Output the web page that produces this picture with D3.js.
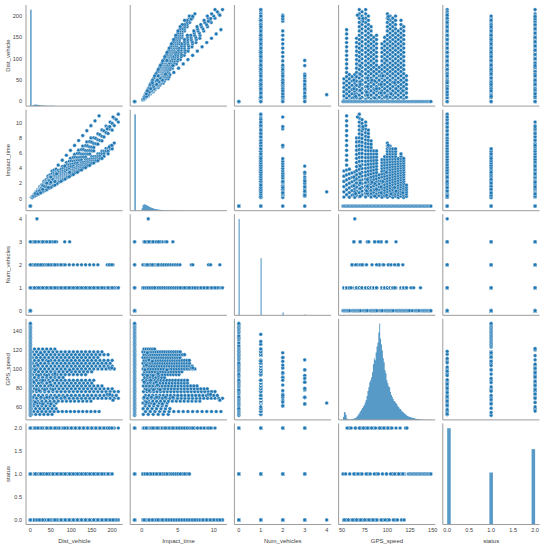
<!DOCTYPE html>
<html><head><meta charset="utf-8">
<script src="https://cdn.jsdelivr.net/npm/d3@7"></script>
<style>body{margin:0;background:#fff}svg{display:block}</style>
</head><body><svg id="c" width="550" height="546"></svg>
<script>
// ---------------- DATA ----------------
const variables = ["Dist_vehicle", "Impact_time", "Num_vehicles", "GPS_speed", "status"];

// tick labels per variable
const yTicks = [[0, 50, 100, 150, 200], [0, 2, 4, 6, 8, 10], [0, 1, 2, 3, 4], [60, 80, 100, 120, 140], [0, 0.5, 1, 1.5, 2]];
const xTicks = [[0, 50, 100, 150, 200], [0, 5, 10], [0, 1, 2, 3, 4], [50, 75, 100, 125, 150], [0, 0.5, 1, 1.5, 2]];

// approach tracks (constant GPS speed)
const trackGps    = [52, 55, 58, 61, 64, 66, 69, 72, 76, 79, 82, 85, 88, 91, 94, 97, 100, 103, 106, 109, 112, 115, 118, 121];
const trackNum    = [1, 1, 1, 2, 1, 1, 1, 1, 1, 1, 1, 1, 1, 2, 1, 1, 1, 1, 1, 1, 2, 1, 1, 1];
const trackStatus = [0, 0, 2, 0, 1, 0, 0, 0, 2, 2, 0, 2, 0, 2, 0, 2, 0, 2, 1, 1, 1, 1, 1, 2];
const trackDist = [
  [3, 13, 23, 33, 43, 53],
  [8, 18, 28, 38, 48, 58, 68, 78, 88, 98, 108, 118, 128, 138, 148, 158, 168],
  [3, 13, 23, 33, 43, 53, 63],
  [8, 18, 28, 38, 48, 58],
  [3, 13, 23, 33, 43, 53, 63],
  [8, 18, 28, 38, 48, 58, 68, 78, 88, 98, 108, 118, 128, 138, 148],
  [5, 15, 25, 35, 45, 55, 65, 75, 85, 95, 105, 115, 125, 135, 145, 155, 165, 175, 185, 195, 205, 215],
  [10, 20, 30, 40, 50, 60, 70, 80, 90, 100, 110, 120, 130, 140, 150, 160, 170, 180, 190, 200, 210],
  [5, 15, 25, 35, 45, 55, 65, 75, 85, 95, 105, 115, 125, 135, 145, 155, 165, 175, 185, 195, 205, 215],
  [10, 20, 30, 40, 50, 60, 70, 80, 90, 100, 110, 120, 130, 140, 150, 160, 170, 180, 190, 200],
  [5, 15, 25, 35, 45, 55, 65, 75, 85, 95, 105, 115, 125, 135, 145, 155, 165, 175],
  [10, 20, 30, 40, 50, 60, 70, 80, 90, 100, 110, 120, 130, 140, 150],
  [5, 15, 25, 35, 45, 55, 65, 75, 85, 95, 105, 115, 125, 135, 145, 155],
  [10, 20, 30, 40, 50, 60, 70, 80],
  [5, 15, 25, 35, 45, 55, 65, 75, 85, 95, 105, 115, 125, 135],
  [10, 20, 30, 40, 50, 60, 70, 80, 90, 100, 110, 120, 130, 140, 150],
  [5, 15, 25, 35, 45, 55, 65, 75, 85, 95, 105, 115, 125, 135, 145, 155, 165, 175, 185, 195, 205],
  [10, 20, 30, 40, 50, 60, 70, 80, 90, 100, 110, 120, 130, 140, 150, 160, 170, 180, 190, 200],
  [5, 15, 25, 35, 45, 55, 65, 75, 85, 95, 105, 115, 125, 135, 145, 155, 165, 175, 185, 195],
  [10, 20, 30, 40, 50, 60, 70, 80, 90, 100, 110, 120, 130, 140, 150, 160, 170, 180, 190, 200],
  [5, 15, 25, 35, 45, 55, 65, 75, 85, 95, 105, 115, 125, 135, 145, 155, 165],
  [10, 20, 30, 40, 50, 60, 70, 80, 90, 100, 110, 120, 130, 140, 150, 160, 170, 180, 190],
  [5, 15, 25, 35, 45, 55, 65, 75, 85, 95, 105, 115, 125, 135, 145, 155, 165, 175],
  [10, 20, 30, 40, 50, 60]
];
const trackImpact = [
  [0.21, 0.90, 1.59, 2.28, 2.98, 3.67],
  [0.52, 1.18, 1.83, 2.49, 3.14, 3.80, 4.45, 5.11, 5.76, 6.41, 7.07, 7.72, 8.38, 9.03, 9.69, 10.34, 11.00],
  [0.19, 0.81, 1.43, 2.05, 2.67, 3.29, 3.91],
  [0.47, 1.06, 1.65, 2.24, 2.83, 3.42],
  [0.17, 0.73, 1.29, 1.86, 2.42, 2.98, 3.54],
  [0.44, 0.98, 1.53, 2.07, 2.62, 3.16, 3.71, 4.25, 4.80, 5.35, 5.89, 6.44, 6.98, 7.53, 8.07],
  [0.26, 0.78, 1.30, 1.83, 2.35, 2.87, 3.39, 3.91, 4.43, 4.96, 5.48, 6.00, 6.52, 7.04, 7.57, 8.09, 8.61, 9.13, 9.65, 10.17, 10.70, 11.22],
  [0.5, 1.0, 1.5, 2.0, 2.5, 3.0, 3.5, 4.0, 4.5, 5.0, 5.5, 6.0, 6.5, 7.0, 7.5, 8.0, 8.5, 9.0, 9.5, 10.0, 10.5],
  [0.24, 0.71, 1.18, 1.66, 2.13, 2.61, 3.08, 3.55, 4.03, 4.50, 4.97, 5.45, 5.92, 6.39, 6.87, 7.34, 7.82, 8.29, 8.76, 9.24, 9.71, 10.18],
  [0.46, 0.91, 1.37, 1.82, 2.28, 2.73, 3.19, 3.65, 4.10, 4.56, 5.01, 5.47, 5.92, 6.38, 6.84, 7.29, 7.75, 8.20, 8.66, 9.11],
  [0.22, 0.66, 1.10, 1.54, 1.98, 2.41, 2.85, 3.29, 3.73, 4.17, 4.61, 5.05, 5.49, 5.93, 6.37, 6.80, 7.24, 7.68],
  [0.42, 0.85, 1.27, 1.69, 2.12, 2.54, 2.96, 3.39, 3.81, 4.24, 4.66, 5.08, 5.51, 5.93, 6.35],
  [0.20, 0.61, 1.02, 1.43, 1.84, 2.25, 2.66, 3.07, 3.48, 3.89, 4.30, 4.70, 5.11, 5.52, 5.93, 6.34],
  [0.40, 0.79, 1.19, 1.58, 1.98, 2.37, 2.77, 3.16],
  [0.19, 0.57, 0.96, 1.34, 1.72, 2.11, 2.49, 2.87, 3.26, 3.64, 4.02, 4.40, 4.79, 5.17],
  [0.37, 0.74, 1.11, 1.48, 1.86, 2.23, 2.60, 2.97, 3.34, 3.71, 4.08, 4.45, 4.82, 5.20, 5.57],
  [0.18, 0.54, 0.90, 1.26, 1.62, 1.98, 2.34, 2.70, 3.06, 3.42, 3.78, 4.14, 4.50, 4.86, 5.22, 5.58, 5.94, 6.30, 6.66, 7.02, 7.38],
  [0.35, 0.70, 1.05, 1.40, 1.75, 2.10, 2.45, 2.80, 3.15, 3.50, 3.84, 4.19, 4.54, 4.89, 5.24, 5.59, 5.94, 6.29, 6.64, 6.99],
  [0.17, 0.51, 0.85, 1.19, 1.53, 1.87, 2.21, 2.55, 2.89, 3.23, 3.57, 3.91, 4.25, 4.58, 4.92, 5.26, 5.60, 5.94, 6.28, 6.62],
  [0.33, 0.66, 0.99, 1.32, 1.65, 1.98, 2.31, 2.64, 2.97, 3.30, 3.63, 3.96, 4.29, 4.62, 4.95, 5.28, 5.61, 5.95, 6.28, 6.61],
  [0.16, 0.48, 0.80, 1.13, 1.45, 1.77, 2.09, 2.41, 2.73, 3.05, 3.38, 3.70, 4.02, 4.34, 4.66, 4.98, 5.30],
  [0.31, 0.63, 0.94, 1.25, 1.57, 1.88, 2.19, 2.50, 2.82, 3.13, 3.44, 3.76, 4.07, 4.38, 4.70, 5.01, 5.32, 5.63, 5.95],
  [0.15, 0.46, 0.76, 1.07, 1.37, 1.68, 1.98, 2.29, 2.59, 2.90, 3.20, 3.51, 3.81, 4.12, 4.42, 4.73, 5.03, 5.34],
  [0.30, 0.60, 0.89, 1.19, 1.49, 1.79]
];

// individual records
const extraGps    = [67, 73, 73, 101, 101, 63, 63, 63, 70, 70, 70, 70, 70, 78, 78, 78, 86, 86, 86, 93, 93, 93, 99, 99, 109.5, 64, 65, 70, 77, 83, 88, 95, 104, 108, 117];
const extraDist   = [202, 188, 194, 193, 199, 10, 30, 50, 6, 26, 46, 64, 84, 15, 35, 55, 8, 28, 48, 20, 40, 60, 12, 96, 30, 16, 12, 40, 22, 50, 30, 60, 18, 44, 25];
const extraImpact = [10.85, 9.27, 9.57, 6.88, 7.09, 0.57, 1.71, 2.86, 0.31, 1.34, 2.37, 3.29, 4.32, 0.69, 1.62, 2.54, 0.33, 1.17, 2.01, 0.77, 1.55, 2.32, 0.44, 3.49, 0.99, 0.90, 0.66, 2.06, 1.03, 2.17, 1.23, 2.27, 0.62, 1.47, 0.77];
const extraNum    = [2, 2, 2, 2, 2, 3, 3, 3, 3, 3, 3, 3, 3, 3, 3, 3, 3, 3, 3, 3, 3, 3, 3, 3, 3, 4, 2, 2, 2, 2, 2, 2, 2, 2, 2];
const extraStatus = [0, 2, 2, 2, 2, 0, 0, 0, 2, 2, 2, 2, 2, 1, 1, 1, 0, 0, 0, 2, 2, 2, 1, 1, 0, 0, 2, 1, 0, 2, 1, 0, 2, 0, 1];

// idle records (no vehicle ahead)
const idleDist = 0, idleImpact = -1;
const zeroGps = [51, 52.5, 54, 55.5, 57, 58.5, 60, 61.5, 63, 64.5, 66, 67.5, 69, 70.5, 72, 73.5, 75, 76.5, 78, 79.5, 81, 82.5, 84, 85.5, 87, 88.5, 90, 91.5, 93, 94.5, 96, 97.5, 99, 100.5, 102, 103.5, 105, 106.5, 108, 109.5, 111, 112.5, 114, 115.5, 117, 118.5, 120, 121.5, 123, 124.5, 126, 127.5, 129, 130.5, 132, 133.5, 135, 136.5, 138, 139.5, 141, 142.5, 144, 145.5, 147, 148];
const zeroNum = [0, 0, 0, 0, 0, 0, 1, 0, 0, 0, 0, 0, 0, 0, 2, 0, 0, 0, 0, 3, 0, 0, 0, 0, 0, 0, 3, 0, 0, 0, 2, 0, 0, 0, 0, 0, 0, 0, 1, 0, 0, 0, 0, 0, 0, 0, 0, 0, 0, 0, 1, 0, 1, 0, 0, 0, 0, 1, 0, 0, 0, 0, 0, 0, 0, 0];
const zeroStatus = [1, 0, 1, 2, 0, 1, 2, 0, 1, 2, 0, 1, 2, 0, 1, 2, 0, 1, 2, 0, 1, 2, 0, 1, 2, 0, 1, 2, 0, 1, 2, 0, 1, 2, 0, 1, 2, 0, 1, 2, 0, 1, 2, 0, 1, 0, 2, 2, 1, 1, 1, 1, 1, 1, 1, 1, 1, 1, 1, 1, 1, 1, 1, 1, 1, 1];

// diagonal histograms (counts of the full dataset)
const distHistStart = 0, distHistBinWidth = 2.15;
const distHistCounts = [9600, 40, 70, 110, 140, 150, 150, 140, 130, 115, 100, 90, 80, 72, 65, 58, 52, 47, 43, 40, 37, 34, 32, 30, 28, 26, 24, 23, 22, 21, 20, 19, 18, 17, 16, 15, 15, 14, 14, 13, 13, 12, 12, 11, 11, 10, 10, 10, 9, 9, 9, 8, 8, 8, 8, 7, 7, 7, 7, 6];
const impactHistStart = -1, impactHistBinWidth = 0.1222;
const impactHistCounts = [9600, 0, 0, 0, 0, 0, 0, 0, 250, 550, 630, 650, 620, 570, 520, 470, 420, 375, 330, 295, 260, 230, 200, 178, 158, 140, 124, 110, 98, 88, 78, 70, 62, 55, 49, 44, 40, 36, 32, 29, 26, 24, 22, 20, 18, 16, 15, 14, 13, 12, 11, 10, 9, 8, 8, 7, 7, 6, 6, 5];
const numHistLeft = [-0.01, 0.99, 1.99, 2.99, 3.99], numHistBinWidth = 0.05;
const numHistCounts = [9600, 5700, 300, 80, 10];
const gpsHistStart = 51, gpsHistBinWidth = 1;
const gpsHistCounts = [30, 80, 75, 50, 15, 5, 5, 5, 5, 8, 10, 12, 15, 20, 25, 35, 45, 60, 75, 90, 105, 120, 135, 150, 175, 200, 240, 290, 330, 380, 400, 430, 480, 560, 620, 600, 680, 740, 780, 880, 970, 820, 760, 700, 620, 580, 500, 470, 400, 370, 340, 330, 280, 250, 230, 210, 190, 185, 170, 160, 140, 130, 115, 110, 95, 85, 80, 70, 60, 55, 45, 40, 35, 30, 28, 25, 22, 20, 18, 15, 12, 10, 10, 8, 6, 5, 4, 3, 3, 2, 2, 2, 1, 1, 1, 1, 1];
const statusHistLeft = [0, 0.96, 1.92], statusHistBinWidth = 0.08;
const statusHistCounts = [4000, 2160, 3130];

// ---------------- BUILD RECORDS ----------------
const records = [];
trackGps.forEach((g, t) => {
  trackDist[t].forEach((d, k) => records.push({
    Dist_vehicle: d, Impact_time: trackImpact[t][k], Num_vehicles: trackNum[t], GPS_speed: g, status: trackStatus[t]
  }));
});
extraGps.forEach((g, i) => records.push({
  Dist_vehicle: extraDist[i], Impact_time: extraImpact[i], Num_vehicles: extraNum[i], GPS_speed: g, status: extraStatus[i]
}));
zeroGps.forEach((g, i) => records.push({
  Dist_vehicle: idleDist, Impact_time: idleImpact, Num_vehicles: zeroNum[i], GPS_speed: g, status: zeroStatus[i]
}));

// contiguous = drawn as one stepped area; otherwise separate bars
const hists = [
  {contiguous: true, lefts: distHistCounts.map((c, i) => distHistStart + i * distHistBinWidth), w: distHistBinWidth, counts: distHistCounts},
  {contiguous: true, lefts: impactHistCounts.map((c, i) => impactHistStart + i * impactHistBinWidth), w: impactHistBinWidth, counts: impactHistCounts},
  {contiguous: false, lefts: numHistLeft, w: numHistBinWidth, counts: numHistCounts},
  {contiguous: true, lefts: gpsHistCounts.map((c, i) => gpsHistStart + i * gpsHistBinWidth), w: gpsHistBinWidth, counts: gpsHistCounts},
  {contiguous: false, lefts: statusHistLeft, w: statusHistBinWidth, counts: statusHistCounts}
];

// ---------------- LAYOUT ----------------
const W = 96.7, H = 101.1;
const colX = [26, 130.2, 234.4, 338.6, 442.8];
const rowTop = [5, 109.6, 214.2, 318.8, 423.4];
const dotColor = "#1f77b4", barColor = "#5799c7", spineColor = "#9c9c9c", textColor = "#3d3d3d";
const font = "'Liberation Sans', Arial, 'DejaVu Sans', sans-serif";

const svg = d3.select("#c");
const pad = v => { const e = d3.extent(records, r => r[v]); const p = (e[1] - e[0]) * 0.05; return [e[0] - p, e[1] + p]; };
const sx = variables.map(v => d3.scaleLinear().domain(pad(v)).range([0, W]));
const sy = variables.map(v => d3.scaleLinear().domain(pad(v)).range([H, 0]));

for (let i = 0; i < 5; i++) {
  for (let j = 0; j < 5; j++) {
    const g = svg.append("g").attr("transform", `translate(${colX[j]},${rowTop[i]})`);
    if (i === j) {
      const h = hists[i];
      const hy = d3.scaleLinear().domain([0, d3.max(h.counts) * 1.05]).range([H, 0]);
      const bars = h.counts.map((c, k) => ({x0: h.lefts[k], x1: h.lefts[k] + h.w, c}));
      if (h.contiguous) {
        const pts = bars.concat([{x0: bars[bars.length - 1].x1, c: 0}]);
        const area = d3.area().curve(d3.curveStepAfter)
          .x(b => sx[i](b.x0)).y0(H).y1(b => hy(b.c));
        g.append("path").attr("d", area(pts)).attr("fill", barColor);
        // keep the tall first spike at least a visible width
        g.append("rect").attr("x", sx[i](bars[0].x0)).attr("y", hy(bars[0].c))
          .attr("width", Math.max(1.1, sx[i](bars[0].x1) - sx[i](bars[0].x0)))
          .attr("height", H - hy(bars[0].c)).attr("fill", barColor);
      } else {
        g.selectAll("rect").data(bars.filter(b => b.c > 0)).join("rect")
          .attr("x", b => sx[i](b.x0))
          .attr("width", b => Math.max(1, sx[i](b.x1) - sx[i](b.x0)))
          .attr("y", b => hy(b.c))
          .attr("height", b => H - hy(b.c))
          .attr("fill", barColor);
      }
    } else {
      const vx = variables[j], vy = variables[i];
      g.selectAll("circle").data(records).join("circle")
        .attr("cx", r => sx[j](r[vx]))
        .attr("cy", r => sy[i](r[vy]))
        .attr("r", 1.85)
        .attr("fill", dotColor)
        .attr("stroke", "#fff")
        .attr("stroke-width", 0.4);
    }
    g.append("line").attr("x1", 0).attr("x2", 0).attr("y1", 0).attr("y2", H)
      .attr("stroke", spineColor).attr("stroke-width", 1);
    g.append("line").attr("x1", 0).attr("x2", W).attr("y1", H).attr("y2", H)
      .attr("stroke", spineColor).attr("stroke-width", 1);
  }
}

const fmt = (v, k) => (k === 4 ? d3.format(".1f")(v) : d3.format("d")(v));

// y tick labels and y labels (left column)
for (let i = 0; i < 5; i++) {
  svg.append("g").selectAll("text").data(yTicks[i]).join("text")
    .attr("x", 22).attr("y", v => rowTop[i] + sy[i](v)).attr("dy", "0.35em")
    .attr("text-anchor", "end").attr("font-family", font).attr("font-size", 5.5)
    .attr("fill", textColor).text(v => fmt(v, i));
  svg.append("text")
    .attr("transform", `translate(7.5,${rowTop[i] + H / 2}) rotate(-90)`)
    .attr("text-anchor", "middle").attr("dy", "0.35em")
    .attr("font-family", font).attr("font-size", 6).attr("fill", textColor)
    .text(variables[i]);
}
// x tick labels and x labels (bottom row)
for (let j = 0; j < 5; j++) {
  svg.append("g").selectAll("text").data(xTicks[j]).join("text")
    .attr("x", v => colX[j] + sx[j](v)).attr("y", 532)
    .attr("text-anchor", "middle").attr("font-family", font).attr("font-size", 5.5)
    .attr("fill", textColor).text(v => fmt(v, j));
  svg.append("text")
    .attr("x", colX[j] + W / 2).attr("y", 542.5)
    .attr("text-anchor", "middle").attr("font-family", font).attr("font-size", 6)
    .attr("fill", textColor).text(variables[j]);
}
</script></body></html>
